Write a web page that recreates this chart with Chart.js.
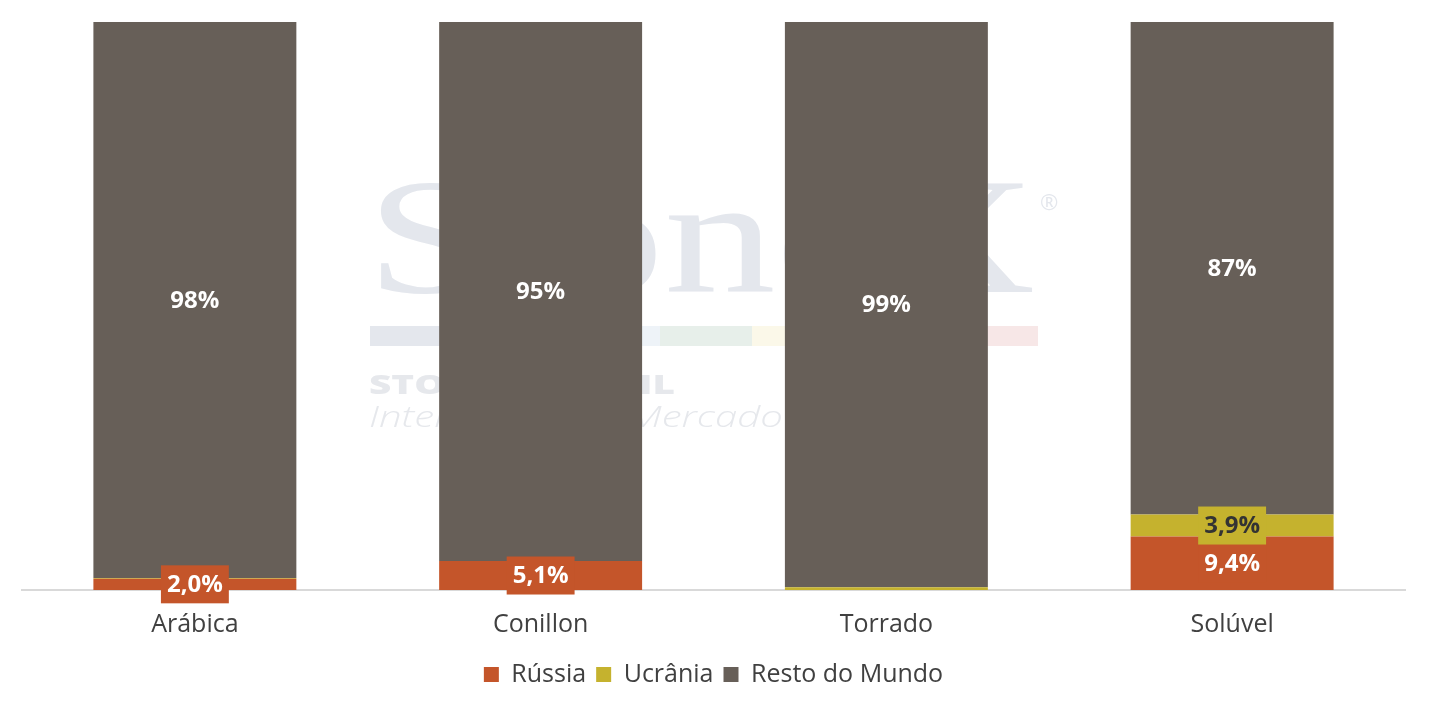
<!DOCTYPE html>
<html>
<head>
<meta charset="utf-8">
<script src="https://cdn.jsdelivr.net/npm/chart.js@4"></script>
<style>
  html, body { margin: 0; padding: 0; background: #fff; }
  #wrap { width: 1429px; height: 709px; position: relative; }
</style>
</head>
<body>
<div id="wrap"><canvas id="chart-share"></canvas></div>
<script>
// Share of exports by destination (%)
const categories = ['Arábica', 'Conillon', 'Torrado', 'Solúvel'];
const russia = [2.0, 5.1, 0.0, 9.4];
const ukraine = [0.1, 0.0, 0.5, 3.9];
const restOfWorld = [97.9, 94.9, 99.5, 86.7];
const restLabels = ['98%', '95%', '99%', '87%'];

const FONT = '"Open Sans", Lato, sans-serif';

// draw text stretched to a given width (watermark only)
function fitText(c, text, x, y, width) {
  const w = c.measureText(text).width;
  c.save();
  c.translate(x, y);
  c.scale(width / w, 1);
  c.fillText(text, 0, 0);
  c.restore();
}

// faint StoneX watermark behind the bars
const watermark = {
  id: 'watermark',
  beforeDatasetsDraw(chart) {
    const c = chart.ctx;
    c.save();
    c.fillStyle = '#e4e7ed';
    c.textBaseline = 'alphabetic';
    c.font = '400 166px "Liberation Serif", serif';
    fitText(c, 'StoneX', 366, 292, 670);
    c.font = '22px ' + FONT;
    c.fillText('®', 1040, 210);
    const segs = [[370, 640, '#e4e7ed'], [640, 660, '#eef3f8'], [660, 752, '#e7efea'],
                  [752, 870, '#fbf8e9'], [870, 985, '#f1eef0'], [985, 1038, '#f7e7e7']];
    segs.forEach(([a, b, col]) => { c.fillStyle = col; c.fillRect(a, 326, b - a, 20); });
    c.fillStyle = '#e6e8ec';
    c.font = '800 27px ' + FONT;
    fitText(c, 'STONEX BRASIL', 369, 394, 306);
    c.font = 'italic 300 29px ' + FONT;
    fitText(c, 'Inteligência de Mercado', 369, 427, 414);
    c.restore();
  }
};

// value labels centred on each segment
const segLabels = {
  id: 'segLabels',
  afterDatasetsDraw(chart) {
    const c = chart.ctx;
    c.save();
    c.font = 'bold 24px ' + FONT;
    c.textAlign = 'center';
    c.textBaseline = 'middle';
    chart.data.datasets.forEach((ds, di) => {
      const meta = chart.getDatasetMeta(di);
      meta.data.forEach((bar, i) => {
        const v = ds.data[i];
        if (v < 1) return;
        const y = (bar.y + bar.base) / 2;
        let text;
        if (di === 2) {
          text = restLabels[i];
        } else {
          text = v.toFixed(1).replace('.', ',') + '%';
          const w = c.measureText(text).width + 12;
          c.fillStyle = ds.backgroundColor;
          c.fillRect(bar.x - w / 2, y - 19, w, 38);
        }
        c.fillStyle = di === 1 ? '#333333' : '#ffffff';
        c.fillText(text, bar.x, y + 1);
      });
    });
    c.restore();
  }
};

new Chart(document.getElementById('chart-share').getContext('2d'), {
  type: 'bar',
  data: {
    labels: categories,
    datasets: [
      { label: 'Rússia', data: russia, backgroundColor: '#c4552a' },
      { label: 'Ucrânia', data: ukraine, backgroundColor: '#c5b22e' },
      { label: 'Resto do Mundo', data: restOfWorld, backgroundColor: '#675f58' }
    ]
  },
  options: {
    responsive: true,
    maintainAspectRatio: false,
    animation: false,
    datasets: {
      bar: { barPercentage: 0.587, categoryPercentage: 1, borderWidth: 0 }
    },
    layout: { padding: { left: 22, right: 24, top: 22, bottom: 12 } },
    scales: {
      x: {
        stacked: true,
        grid: { display: false },
        border: { color: '#d9d9d9', width: 2 },
        ticks: { color: '#404040', font: { family: FONT, size: 25 }, padding: 12 }
      },
      y: {
        stacked: true,
        display: false,
        min: 0,
        max: 100
      }
    },
    plugins: {
      legend: {
        position: 'bottom',
        labels: {
          color: '#404040',
          font: { family: FONT, size: 25 },
          boxWidth: 15,
          boxHeight: 15,
          padding: 10
        }
      },
      tooltip: { enabled: false }
    }
  },
  plugins: [watermark, segLabels]
});
</script>
</body>
</html>
